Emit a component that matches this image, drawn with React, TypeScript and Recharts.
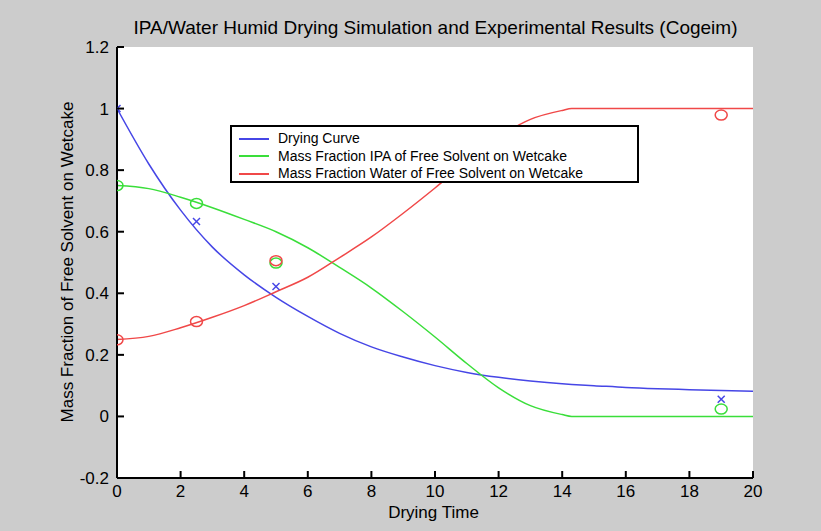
import {
  ComposedChart,
  Line,
  Scatter,
  XAxis,
  YAxis,
  CartesianGrid,
  Legend,
} from "recharts";

// simulated curves
const TIME = [0, 1, 2, 3, 4, 5, 6, 7, 8, 9, 10, 11, 12, 13, 14, 14.3, 15, 16, 17, 18, 19, 20];
const DRYING = [1.0, 0.82, 0.67, 0.55, 0.46, 0.387, 0.325, 0.27, 0.226, 0.193, 0.165, 0.143, 0.127, 0.115, 0.106, 0.104, 0.1, 0.094, 0.09, 0.087, 0.084, 0.082];
const IPA = [0.75, 0.74, 0.712, 0.678, 0.64, 0.6, 0.548, 0.484, 0.417, 0.34, 0.258, 0.172, 0.093, 0.035, 0.006, 0, 0, 0, 0, 0, 0, 0];
const WATER = [0.25, 0.26, 0.288, 0.322, 0.36, 0.405, 0.452, 0.516, 0.583, 0.66, 0.742, 0.828, 0.907, 0.965, 0.994, 1, 1, 1, 1, 1, 1, 1];

// experimental points
const MEAS_TIME = [0, 2.5, 5, 19];
const DRYING_MEAS = [1.0, 0.633, 0.422, 0.056];
const IPA_MEAS = [0.75, 0.692, 0.498, 0.024];
const WATER_MEAS = [0.249, 0.308, 0.506, 0.979];

const X_TICKS = [0, 2, 4, 6, 8, 10, 12, 14, 16, 18, 20];
const Y_TICKS = [-0.2, 0, 0.2, 0.4, 0.6, 0.8, 1, 1.2];

const BLUE = "#4646e6";
const GREEN = "#3ade3a";
const RED = "#f04848";
const FONT = "'Liberation Sans', Arial, sans-serif";

const SERIES = [
  { name: "Drying Curve", color: BLUE, values: DRYING },
  { name: "Mass Fraction IPA of Free Solvent on Wetcake", color: GREEN, values: IPA },
  { name: "Mass Fraction Water of Free Solvent on Wetcake", color: RED, values: WATER },
];

const toPoints = (xs: number[], ys: number[]) => xs.map((t, i) => ({ t, v: ys[i] }));

const fmt = (v: number) => String(Math.round(v * 10) / 10);

const BottomTick = ({ x, y, payload }: any) => (
  <g>
    <line x1={x} x2={x} y1={y} y2={y - 7} stroke="#000" strokeWidth={2} />
    <text x={x} y={y + 19} textAnchor="middle" fontSize={17} fontFamily={FONT} fill="#000">
      {fmt(payload.value)}
    </text>
  </g>
);

const TopTick = ({ x, y }: any) => (
  <line x1={x} x2={x} y1={y} y2={y + 7} stroke="#000" strokeWidth={2} />
);

const LeftTick = ({ x, y, payload }: any) => (
  <g>
    <line x1={x} x2={x + 7} y1={y} y2={y} stroke="#000" strokeWidth={2} />
    <text x={x - 8} y={y + 6} textAnchor="end" fontSize={17} fontFamily={FONT} fill="#000">
      {fmt(payload.value)}
    </text>
  </g>
);

const RightTick = ({ x, y }: any) => (
  <line x1={x} x2={x - 7} y1={y} y2={y} stroke="#000" strokeWidth={2} />
);

const Cross = ({ cx, cy, fill }: any) => (
  <g stroke={fill} strokeWidth={1.5}>
    <line x1={cx - 3.5} x2={cx + 3.5} y1={cy - 3.5} y2={cy + 3.5} />
    <line x1={cx - 3.5} x2={cx + 3.5} y1={cy + 3.5} y2={cy - 3.5} />
  </g>
);

const Ring = ({ cx, cy, fill }: any) => (
  <ellipse cx={cx} cy={cy} rx={6} ry={5} fill="none" stroke={fill} strokeWidth={1.5} />
);

const LegendBox = () => (
  <div
    style={{
      border: "2px solid #000",
      background: "#fff",
      boxSizing: "border-box",
      width: 409,
      height: 58,
      padding: "3px 0 0 7px",
      fontFamily: FONT,
      fontSize: 14,
      lineHeight: "17.5px",
      color: "#000",
    }}
  >
    {SERIES.map((s) => (
      <div key={s.name} style={{ display: "flex", alignItems: "center" }}>
        <span style={{ display: "inline-block", width: 30, height: 0, borderTop: `2px solid ${s.color}`, marginRight: 9 }} />
        {s.name}
      </div>
    ))}
  </div>
);

export default function App() {
  return (
    <div
      style={{
        position: "absolute",
        left: 0,
        top: 0,
        width: 821,
        height: 531,
        background: "#cccccc",
        fontFamily: FONT,
        color: "#000",
      }}
    >
      <div style={{ position: "absolute", left: 0, width: 821, top: 17, textAlign: "center", paddingLeft: 50, boxSizing: "border-box", fontSize: 19 }}>
        IPA/Water Humid Drying Simulation and Experimental Results (Cogeim)
      </div>
      <div
        style={{
          position: "absolute",
          left: 68,
          top: 262,
          transform: "translate(-50%, -50%) rotate(-90deg)",
          whiteSpace: "nowrap",
          fontSize: 17,
        }}
      >
        Mass Fraction of Free Solvent on Wetcake
      </div>
      <div style={{ position: "absolute", left: 0, width: 821, paddingLeft: 46, boxSizing: "border-box", top: 503, textAlign: "center", fontSize: 17 }}>
        Drying Time
      </div>
      <ComposedChart
        width={821}
        height={531}
        margin={{ top: 47, right: 68, bottom: 23, left: 67 }}
        style={{ position: "absolute", left: 0, top: 0 }}
      >
        <CartesianGrid horizontal={false} vertical={false} fill="#ffffff" />
        <XAxis
          dataKey="t"
          type="number"
          domain={[0, 20]}
          ticks={X_TICKS}
          height={30}
          tickSize={0}
          tickMargin={0}
          tick={(p: any) => <BottomTick {...p} />}
          axisLine={{ stroke: "#000", strokeWidth: 2 }}
          allowDataOverflow
        />
        <XAxis
          xAxisId="top"
          orientation="top"
          dataKey="t"
          type="number"
          domain={[0, 20]}
          ticks={X_TICKS}
          height={0}
          tickSize={0}
          tickMargin={0}
          tick={(p: any) => <TopTick {...p} />}
          axisLine={{ stroke: "#000", strokeWidth: 2 }}
          allowDataOverflow
        />
        <YAxis
          type="number"
          domain={[-0.2, 1.2]}
          ticks={Y_TICKS}
          width={50}
          tickSize={0}
          tickMargin={0}
          tick={(p: any) => <LeftTick {...p} />}
          axisLine={{ stroke: "#000", strokeWidth: 2 }}
          allowDataOverflow
        />
        <YAxis
          yAxisId="right"
          orientation="right"
          type="number"
          domain={[-0.2, 1.2]}
          ticks={Y_TICKS}
          width={0}
          tickSize={0}
          tickMargin={0}
          tick={(p: any) => <RightTick {...p} />}
          axisLine={{ stroke: "#000", strokeWidth: 2 }}
          allowDataOverflow
        />
        {SERIES.map((s) => (
          <Line
            key={s.name}
            data={toPoints(TIME, s.values)}
            dataKey="v"
            name={s.name}
            type="monotone"
            stroke={s.color}
            strokeWidth={1.5}
            dot={false}
            activeDot={false}
            isAnimationActive={false}
          />
        ))}
        <Scatter data={toPoints(MEAS_TIME, DRYING_MEAS)} dataKey="v" fill={BLUE} shape={(p: any) => <Cross {...p} />} legendType="none" isAnimationActive={false} />
        <Scatter data={toPoints(MEAS_TIME, IPA_MEAS)} dataKey="v" fill={GREEN} shape={(p: any) => <Ring {...p} />} legendType="none" isAnimationActive={false} />
        <Scatter data={toPoints(MEAS_TIME, WATER_MEAS)} dataKey="v" fill={RED} shape={(p: any) => <Ring {...p} />} legendType="none" isAnimationActive={false} />
        <Legend
          layout="vertical"
          align="center"
          verticalAlign="middle"
          content={() => <LegendBox />}
          wrapperStyle={{ left: 230, top: 125, width: 409, height: 58 }}
        />
      </ComposedChart>
    </div>
  );
}
